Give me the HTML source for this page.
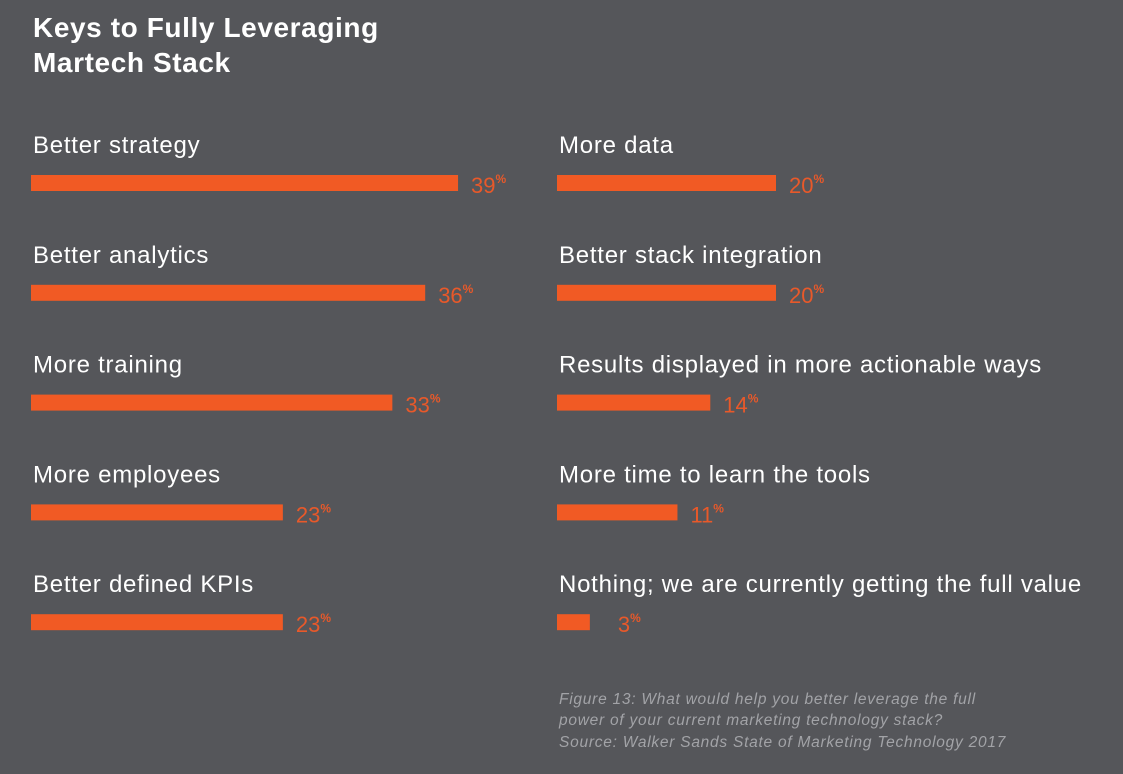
<!DOCTYPE html>
<html><head><meta charset="utf-8"><style>
body{margin:0;width:1123px;height:774px;background:#55565a;overflow:hidden;font-family:"Liberation Sans",sans-serif;}
#c{position:absolute;left:0;top:0}
</style></head><body>
<svg id="c" width="1123" height="774">
<rect width="1123" height="774" fill="#55565a"/>
<text x="33" y="37" fill="#fff" font-size="28" font-weight="bold" letter-spacing="0.6">Keys to Fully Leveraging</text>
<text x="33" y="72" fill="#fff" font-size="28" font-weight="bold" letter-spacing="0.6">Martech Stack</text>
<g id="bars"></g>
<text x="559" y="704" fill="#a2a3a7" font-size="15.5" font-style="italic" letter-spacing="0.75">Figure 13: What would help you better leverage the full</text>
<text x="559" y="725" fill="#a2a3a7" font-size="15.5" font-style="italic" letter-spacing="0.75">power of your current marketing technology stack?</text>
<text x="559" y="747" fill="#a2a3a7" font-size="15.5" font-style="italic" letter-spacing="0.75">Source: Walker Sands State of Marketing Technology 2017</text>
</svg>
<script>
const categories=["Better strategy","Better analytics","More training","More employees","Better defined KPIs","More data","Better stack integration","Results displayed in more actionable ways","More time to learn the tools","Nothing; we are currently getting the full value"];
const values=[39,36,33,23,23,20,20,14,11,3];
const NS="http://www.w3.org/2000/svg";
const g=document.getElementById('bars');
const xScale=v=>v*10.95;
function mk(t,a){const e=document.createElementNS(NS,t);for(const k in a)e.setAttribute(k,a[k]);return e;}
categories.forEach((c,i)=>{
  const col=i<5?0:1,row=i%5;
  const x0=col?557:31,y0=175+row*109.8;
  const lab=mk('text',{x:x0+2,y:y0-22,fill:'#fff','font-size':'24','letter-spacing':'0.75'});
  lab.textContent=c;
  
  
  g.appendChild(lab);
  const w=xScale(values[i]);
  const r=mk('rect',{x:x0,y:y0,width:w,height:16,fill:'#f15a24'});
  
  
  g.appendChild(r);
  const v=mk('text',{x:x0+w+13+(values[i]<10?15:0),y:y0+18,fill:'#e8592a','font-size':'22'});
  v.textContent=values[i];
  const s=mk('tspan',{'font-size':'12',dy:'-10','font-weight':'bold'});s.textContent='%';v.appendChild(s);
  
  
  g.appendChild(v);
});
</script>
</body></html>
